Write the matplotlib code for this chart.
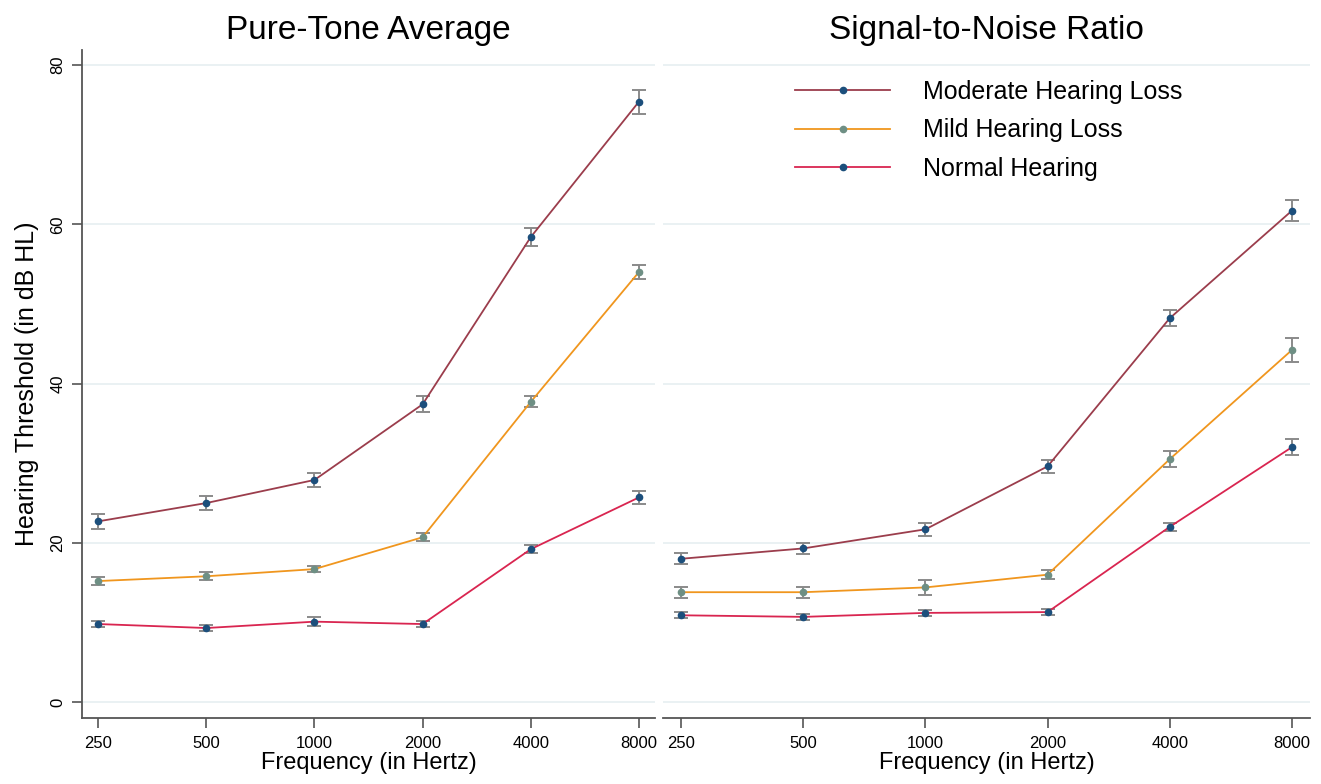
import numpy as np
import matplotlib
matplotlib.use("Agg")
import matplotlib.pyplot as plt

plt.rcParams['font.family'] = ['Liberation Sans', 'DejaVu Sans']

freqs = ["250", "500", "1000", "2000", "4000", "8000"]
groups = ["Moderate Hearing Loss", "Mild Hearing Loss", "Normal Hearing"]

# Pure-tone average (dB HL) and half-widths of the error bars
pta_mod = [22.7, 25.0, 27.9, 37.4, 58.4, 75.4]
pta_mod_err = [0.9, 0.9, 0.9, 1.0, 1.1, 1.5]
pta_mild = [15.2, 15.8, 16.7, 20.7, 37.7, 54.0]
pta_mild_err = [0.5, 0.5, 0.4, 0.5, 0.7, 0.9]
pta_norm = [9.8, 9.3, 10.1, 9.8, 19.2, 25.7]
pta_norm_err = [0.4, 0.4, 0.6, 0.4, 0.5, 0.8]

# Signal-to-noise ratio
snr_mod = [18.0, 19.3, 21.7, 29.6, 48.2, 61.7]
snr_mod_err = [0.7, 0.7, 0.8, 0.8, 1.0, 1.3]
snr_mild = [13.8, 13.8, 14.4, 16.0, 30.5, 44.2]
snr_mild_err = [0.7, 0.7, 0.9, 0.6, 1.0, 1.5]
snr_norm = [10.9, 10.7, 11.2, 11.3, 22.0, 32.0]
snr_norm_err = [0.4, 0.4, 0.4, 0.4, 0.5, 1.0]

line_colors = ["#9b3d4c", "#f0961e", "#d92550"]
marker_colors = ["#1c4f7c", "#6e8f84", "#1c4f7c"]
err_color = "#8a8a8a"
grid_color = "#e6eff1"

fig = plt.figure(figsize=(13.21, 7.84), dpi=100)
ax1 = fig.add_axes([0.0621, 0.0842, 0.4338, 0.852])
ax2 = fig.add_axes([0.5019, 0.0842, 0.4898, 0.852])

x = np.arange(len(freqs))


def draw_panel(ax, series, errs, title):
    for k, (vals, err) in enumerate(zip(series, errs)):
        ax.errorbar(x, vals, yerr=err, fmt='none', ecolor=err_color,
                    elinewidth=1.4, capsize=5, capthick=1.4, zorder=2)
        ax.plot(x, vals, color=line_colors[k], lw=1.3, zorder=3,
                marker='o', markersize=4.5, markerfacecolor=marker_colors[k],
                markeredgecolor=marker_colors[k], label=groups[k])
    ax.set_xlim(-0.15, 5.15)
    ax.set_ylim(-2.0, 81.9)
    ax.set_yticks([0, 20, 40, 60, 80])
    ax.set_xticks(x)
    ax.set_xticklabels(freqs, fontsize=12)
    ax.grid(axis='y', color=grid_color, lw=1.2)
    ax.set_axisbelow(True)
    ax.spines['top'].set_visible(False)
    ax.spines['right'].set_visible(False)
    ax.spines['bottom'].set_color("#555555")
    ax.spines['bottom'].set_linewidth(1.3)
    ax.tick_params(axis='x', length=7, width=1.2, color="#555555", pad=6)
    ax.set_title(title, fontsize=24, pad=8)
    ax.set_xlabel("Frequency (in Hertz)", fontsize=17, labelpad=1)


draw_panel(ax1, [pta_mod, pta_mild, pta_norm],
           [pta_mod_err, pta_mild_err, pta_norm_err], "Pure-Tone Average")
draw_panel(ax2, [snr_mod, snr_mild, snr_norm],
           [snr_mod_err, snr_mild_err, snr_norm_err], "Signal-to-Noise Ratio")

ax1.spines['left'].set_color("#555555")
ax1.spines['left'].set_linewidth(1.3)
ax1.tick_params(axis='y', length=7, width=1.2, color="#555555", pad=5)
for lab in ax1.get_yticklabels():
    lab.set_rotation(90)
    lab.set_va('center')
    lab.set_fontsize(12)
ax1.set_ylabel("Hearing Threshold (in dB HL)", fontsize=18, labelpad=8)

ax2.spines['left'].set_visible(False)
ax2.tick_params(axis='y', left=False, labelleft=False)

leg = ax2.legend(loc='upper left', bbox_to_anchor=(0.204, 0.955), frameon=False,
                 fontsize=18, handlelength=3.8, handletextpad=1.3,
                 labelspacing=0.57, borderpad=0, borderaxespad=0)

fig.savefig("out.png", dpi=100)
